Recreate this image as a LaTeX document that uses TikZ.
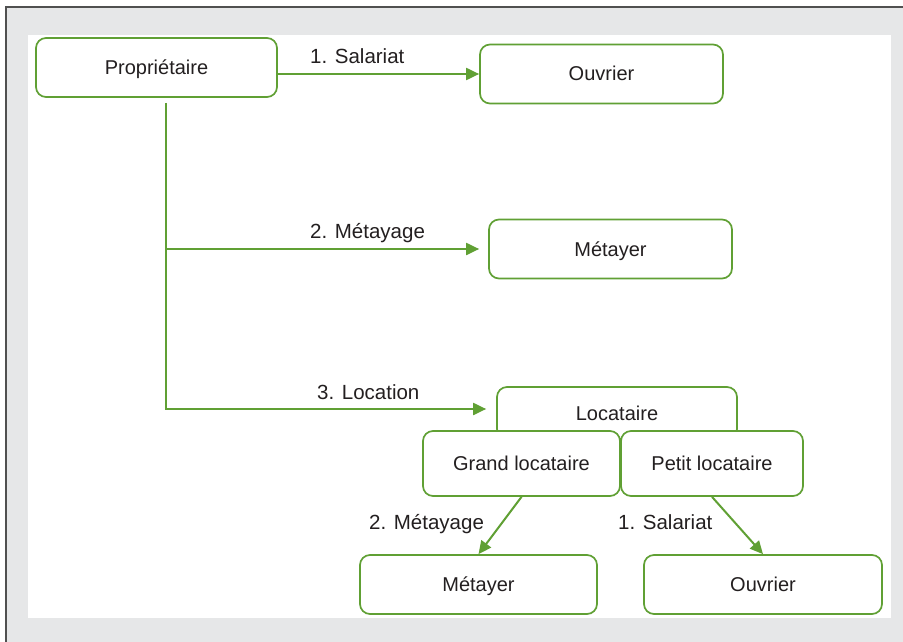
\documentclass[tikz,border=0pt]{standalone}
\usepackage{fontspec}
\setmainfont{Liberation Sans}
\usetikzlibrary{arrows.meta}
\definecolor{gr}{RGB}{96,160,52}
\definecolor{txt}{RGB}{35,31,32}
\definecolor{bg}{RGB}{230,231,232}
\definecolor{fr}{RGB}{80,80,80}
\begin{document}
\begin{tikzpicture}[x=1pt,y=-1pt,
  box/.style={draw=gr, line width=1.7pt, rounded corners=10pt, fill=white, text=txt,
    font=\fontsize{20}{24}\selectfont, inner sep=0pt, text height=16pt, text depth=2pt},
  conn/.style={draw=gr, line width=2pt, -{Triangle[length=13pt,width=12pt]}},
  lab/.style={text=txt, font=\fontsize{20.5}{24}\selectfont, inner sep=0pt, anchor=base west}]
\useasboundingbox (0,0) rectangle (903,642);
\fill[bg] (6,7) rectangle (903,642);
\fill[white] (28,35) rectangle (891,618);
\draw[fr, line width=2pt] (6,642) -- (6,7) -- (903,7);

\node[box, minimum width=241pt, minimum height=59pt] (prop) at (156.5,67.5) {Propriétaire};
\node[box, minimum width=243pt, minimum height=59pt] (ouv1) at (601.5,74) {Ouvrier};
\node[box, minimum width=243pt, minimum height=59pt] (met1) at (610.5,249) {Métayer};
\node[box, minimum width=240pt, minimum height=52pt] (loc) at (617,413) {Locataire};
\node[box, minimum width=197pt, minimum height=65pt] (grand) at (521.5,463.5) {Grand locataire};
\node[box, minimum width=182pt, minimum height=65pt] (petit) at (712,463.5) {Petit locataire};
\node[box, minimum width=237pt, minimum height=59pt] (met2) at (478.5,584.5) {Métayer};
\node[box, minimum width=238pt, minimum height=59pt] (ouv2) at (763,584.5) {Ouvrier};

\coordinate (t0) at (166,103);
\coordinate (t1) at (166,409);

\draw[conn] (prop.east |- ouv1.west) -- (ouv1.west);
\draw[conn, shorten >=9pt] (t0 |- met1.west) -- (met1.west);
\draw[conn, shorten >=10pt] (t0) -- (t1) -- (t1 -| loc.west);
\draw[conn] (grand.south) -- (met2.north);
\draw[conn] (petit.south) -- (ouv2.north);

\node[lab] (l1) at (310,64) {1. Salariat};
\node[lab] (l2) at (310,238) {2. Métayage};
\node[lab] (l3) at (317,399) {3. Location};
\node[lab] (l4) at (369,529) {2. Métayage};
\node[lab] (l5) at (618,529) {1. Salariat};
\end{tikzpicture}
\end{document}
